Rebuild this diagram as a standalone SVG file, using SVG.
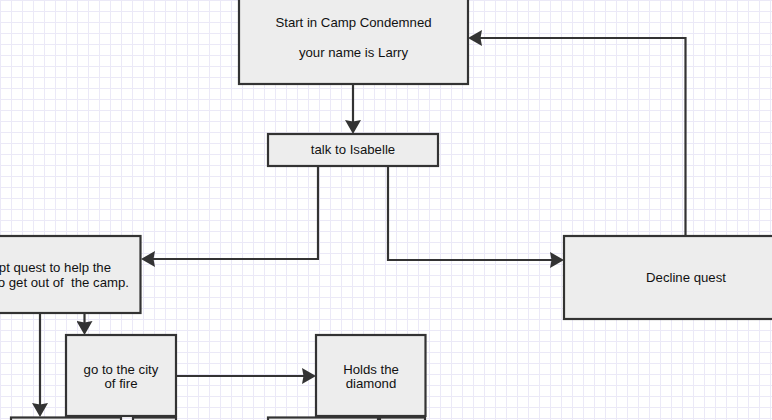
<svg xmlns="http://www.w3.org/2000/svg" width="772" height="420" viewBox="0 0 772 420">
<style>
.box{fill:#ededed;stroke:#333333;stroke-width:2.2}
.lbl{font-family:"Liberation Sans",Arial,sans-serif;font-size:13.2px;fill:#111111;text-anchor:middle;white-space:pre}
.edge{fill:none;stroke:#333333;stroke-width:2.2;marker-end:url(#arr)}
</style>
<defs>
<pattern id="grid" width="11" height="11" patternUnits="userSpaceOnUse">
<rect x="0" y="0" width="11" height="1" fill="#ebe9f7"/>
<rect x="0" y="0" width="1" height="11" fill="#ebe9f7"/>
</pattern>
<marker id="arr" viewBox="0 0 14 16" refX="4" refY="8" markerWidth="14" markerHeight="16" markerUnits="userSpaceOnUse" orient="auto">
<path d="M0,0 L14,8 L0,16 L1.5,8 Z" fill="#333333"/>
</marker>
</defs>
<rect width="772" height="420" fill="#ffffff"/>
<rect width="772" height="420" fill="url(#grid)"/>

<g id="connectors">
<path class="edge" d="M353,84 V124"/>
<path class="edge" d="M318,166 V259 H151"/>
<path class="edge" d="M388,166 V260 H554"/>
<path class="edge" d="M685.5,236 V38 H478"/>
<path class="edge" d="M84.5,313 V325"/>
<path class="edge" d="M40,313 V407"/>
<path class="edge" d="M176,376 H306"/>
</g>

<g id="node-start">
<rect class="box" x="239" y="-10" width="229" height="94"/>
<text class="lbl" x="353.5" y="26.5">Start in Camp Condemned</text>
<text class="lbl" x="353.5" y="56.5">your name is Larry</text>
</g>

<g id="node-talk">
<rect class="box" x="268" y="134" width="170" height="32"/>
<text class="lbl" x="353" y="154">talk to Isabelle</text>
</g>

<g id="node-accept">
<rect class="box" x="-110" y="236" width="250.5" height="77"/>
<text class="lbl" x="111" y="272" style="text-anchor:end">pt quest to help the</text>
<text class="lbl" x="129" y="287" style="text-anchor:end" xml:space="preserve">o get out of  the camp.</text>
</g>

<g id="node-decline">
<rect class="box" x="564" y="236" width="244" height="83"/>
<text class="lbl" x="686" y="282">Decline quest</text>
</g>

<g id="node-bottom-a">
<rect class="box" x="11" y="417.5" width="110" height="40"/>
</g>
<g id="node-bottom-b">
<rect class="box" x="133" y="417.5" width="43" height="40"/>
</g>
<g id="node-bottom-c">
<rect class="box" x="268" y="417.5" width="110" height="40"/>
</g>
<g id="node-bottom-d">
<rect class="box" x="380" y="417.5" width="45" height="40"/>
</g>

<g id="node-city">
<rect class="box" x="66" y="335" width="110" height="81"/>
<text class="lbl" x="121" y="373.5">go to the city</text>
<text class="lbl" x="121" y="388">of fire</text>
</g>

<g id="node-diamond">
<rect class="box" x="316" y="335" width="109.5" height="81"/>
<text class="lbl" x="371" y="373.5">Holds the</text>
<text class="lbl" x="371" y="388">diamond</text>
</g>
</svg>
